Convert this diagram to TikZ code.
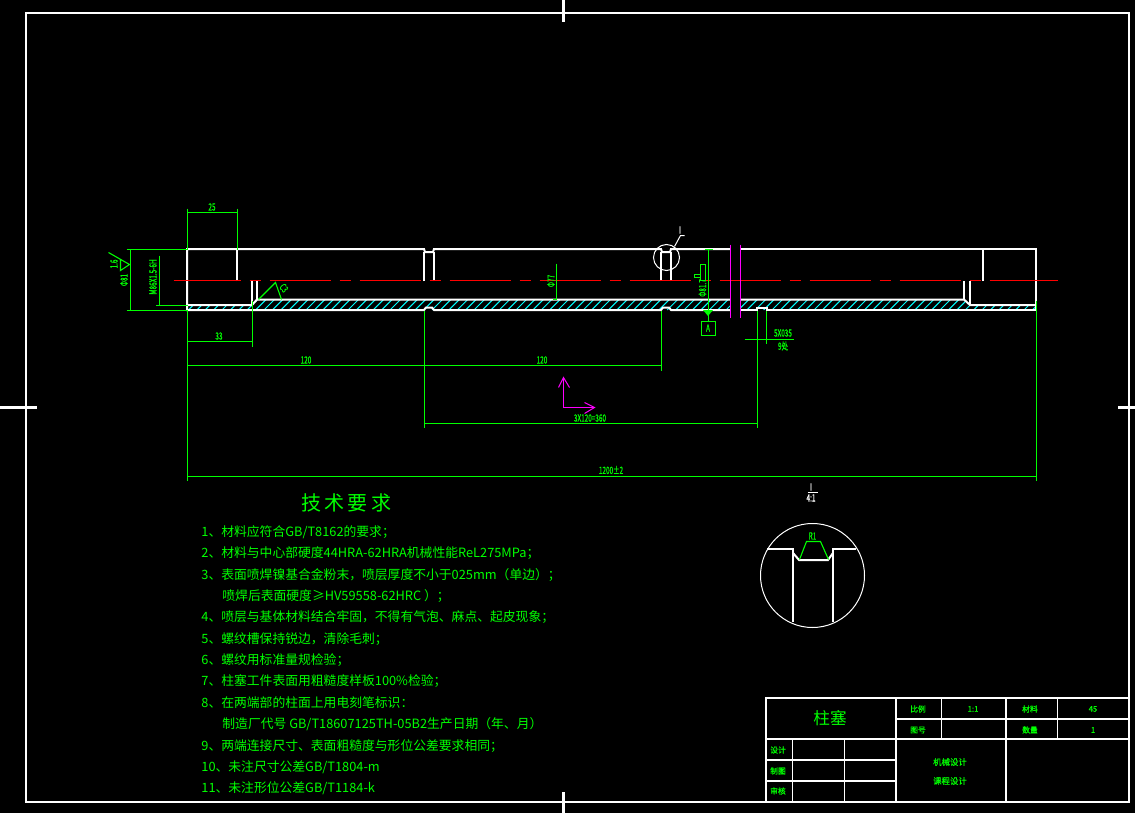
\documentclass[tikz,border=0pt]{standalone}
\usepackage{fontspec}
\newfontfamily\cjk{Noto Sans CJK SC}
\newfontfamily\cjkbold[FakeBold=0.6]{Noto Sans CJK SC}
\definecolor{CadGreen}{RGB}{0,255,0}
\definecolor{CadCyan}{RGB}{0,255,255}
\definecolor{CadMagenta}{RGB}{255,0,255}
\tikzset{
    onepixel/.style={xshift=0.25pt,yshift=-0.25pt},
    part/.style={white,line width=1pt},
    thinpart/.style={white,line width=0.5pt,onepixel},
    dimline/.style={CadGreen,line width=0.55pt,onepixel},
    axisline/.style={red,line width=0.6pt,onepixel},
    breakline/.style={CadMagenta,line width=0.5pt,onepixel},
    dimtext/.style={text=CadGreen,inner sep=0pt,font=\cjkbold\fontsize{5}{5}\selectfont,transform shape,xscale=0.64},
    reqtext/.style={text=CadGreen,inner sep=0pt,anchor=west,font=\cjk\fontsize{6.4}{8}\selectfont},
    celltext/.style={text=CadGreen,inner sep=0pt,font=\cjkbold\fontsize{3.9}{5}\selectfont},
}
\newcommand\ReqLine[4]{%
    \node[reqtext] (#1) at (#2,#3) {#4};
}

\begin{document}
\begin{tikzpicture}[x=0.5pt,y=-0.5pt]
    \useasboundingbox (0,0) rectangle (1135,813);
    \fill[black] (0,0) rectangle (1135,813);
    % sheet
    \draw[part] (26,13) rectangle (1129,802);
    \draw[white,line width=1.5pt] (563,0) -- (563,22);
    \draw[white,line width=1.5pt] (563,792) -- (563,813);
    \draw[white,line width=1.5pt] (0,407) -- (37,407);
    \draw[white,line width=1.5pt] (1118,407) -- (1135,407);
    % hatch
    \begin{scope}
        \clip (187,310) -- (187,305) -- (252,305) -- (257,299) -- (730,299) -- (730,310) -- cycle;
        \foreach \s in {180,188.4,...,735}
            \draw[CadCyan,line width=0.5pt] (\s,310) -- ++(11,-11);
    \end{scope}
    \begin{scope}
        \clip (740,310) -- (740,299) -- (964,299) -- (970,305) -- (1036,305) -- (1036,310) -- cycle;
        \foreach \s in {730,738.4,...,1040}
            \draw[CadCyan,line width=0.5pt] (\s,310) -- ++(11,-11);
    \end{scope}
    % part
    \draw[part] (730,249) -- (671,249) -- (670,252) -- (662,252) -- (661,249) -- (434,249)
        -- (433,252) -- (425,252) -- (424,249) -- (187,249) -- (187,310) -- (424,310)
        -- (426,307.5) -- (432,307.5) -- (434,310) -- (661,310) -- (663,307.5) -- (669,307.5)
        -- (671,310) -- (730,310);
    \draw[part] (740,249) -- (1036,249) -- (1036,310) -- (767,310) -- (767,307.5) -- (757,307.5)
        -- (757,310) -- (740,310);
    \draw[part] (187,305) -- (252,305) -- (257,299.5) -- (730,299.5);
    \draw[part] (740,299.5) -- (964,299.5) -- (970,305) -- (1036,305);
    \foreach \x/\y in {252/305,257/299,964/299,970/305}
        \draw[part] (\x,281) -- (\x,\y);
    \foreach \x/\y in {237/249,424/252,434/252,661/252,671/252,983/249}
        \draw[part] (\x,281) -- (\x,\y);
    % center line
    \foreach \s in {179,269,...,899} {
        \draw[axisline] (\s,280) -- (\s+61,280);
        \draw[axisline] (\s+70,280) -- (\s+81,280);
    }
    \draw[axisline] (173,280) -- (179,280);
    \draw[axisline] (989,280) -- (1057,280);
    % break
    \draw[breakline] (730,244) -- (730,317);
    \draw[breakline] (740,244) -- (740,317);
    % dimensions
    \draw[dimline] (187,208) -- (187,249);
    \draw[dimline] (237,208) -- (237,249);
    \draw[dimline] (187,212) -- (237,212);
    \node[dimtext] (DimEnd) at (212,207) {25};
    \draw[dimline] (126,249) -- (187,249);
    \draw[dimline] (126,310) -- (187,310);
    \draw[dimline] (130,249) -- (130,310);
    \node[rotate=90,dimtext] (DimOuter) at (124,280) {Φ81};
    \draw[dimline] (159,255) -- (159,305) -- (155,305);
    \draw[dimline] (159,305) -- (187,305);
    \node[rotate=90,dimtext] (DimThread) at (153,277) {M86X1.5-6H};
    \draw[dimline] (108,252) -- (129,264) -- (120,270) -- (120,259);
    \node[rotate=90,dimtext] (Rough) at (114,264) {1.6};
    \draw[dimline] (187,310) -- (187,480);
    \draw[dimline] (1036,300) -- (1036,480);
    \draw[dimline] (252,300) -- (252,346);
    \draw[dimline] (187,341) -- (252,341);
    \node[dimtext] (DimStep) at (219,336) {33};
    \draw[dimline] (661,310) -- (661,370);
    \draw[dimline] (187,365) -- (661,365);
    \node[dimtext] (DimPitchA) at (306,360) {120};
    \node[dimtext] (DimPitchB) at (542,360) {120};
    \draw[dimline] (424,310) -- (424,427);
    \draw[dimline] (757,310) -- (757,427);
    \draw[dimline] (424,423) -- (757,423);
    \node[dimtext] (DimPitch) at (590,418) {3X120=360};
    \draw[dimline] (187,476) -- (1036,476);
    \node[dimtext] (DimTotal) at (611,470) {1200±2};
    % chamfer
    \draw[dimline] (258,299) -- (275,282) -- (281,299);
    \node[rotate=-50,dimtext] (Chamfer) at (284,288) {C3};
    % bore
    \draw[dimline] (556,263) -- (556,299) -- (552,299);
    \node[rotate=90,dimtext] (DimBore) at (551,281) {Φ77};
    % datum
    \draw[dimline] (704,249) -- (712,249);
    \draw[dimline] (708,249) -- (708,321);
    \fill[CadGreen] (703,310) -- (713,310) -- (708,316) -- cycle;
    \draw[dimline] (701,321) rectangle (715,335);
    \node[dimtext] (Datum) at (708,328) {A};
    \node[rotate=90,dimtext] (DimShaft) at (702.5,288) {Φ81.7};
    \draw[dimline] (700,264) rectangle (705,280);
    \draw[dimline] (694,274) rectangle (700,277);
    % groove note
    \draw[dimline] (744,339) -- (793,339);
    \draw[dimline] (766,310) -- (766,343);
    \node[dimtext] (GrooveSize) at (783,333) {5X035};
    \node[dimtext] (GrooveCount) at (783,346) {9处};
    % axes
    \begin{scope}[color=CadMagenta,line width=0.5pt,onepixel]
        \draw (563,377) -- (563,407) -- (594,407);
        \draw (558,387) -- (563,377) -- (569,387);
        \draw (584,402) -- (594,407) -- (584,413);
    \end{scope}
    % detail mark
    \draw[thinpart] (666,257) circle (13);
    \draw[thinpart] (674,246) -- (680,235) -- (684,235);
    \node[dimtext,text=white] (DetailMark) at (680,230) {I};
    % detail view
    \node[dimtext,text=white] (DetailName) at (811,487) {I};
    \draw[thinpart] (807,492) -- (817,492);
    \node[dimtext,text=white] (DetailScale) at (811,498) {4:1};
    \draw[thinpart] (812,575) circle (52);
    \draw[part] (767,549) -- (793,549) -- (793,622);
    \draw[part] (856,549) -- (833,549) -- (833,622);
    \draw[part] (793,553) -- (799,560) -- (828,560) -- (833,553);
    \draw[dimline] (799,559) -- (806,541) -- (820,541) -- (828,559);
    \node[dimtext] (DetailRadius) at (812.5,536) {R1};
    % requirements
    \node[text=CadGreen,inner sep=0pt,font=\cjk\fontsize{10}{12}\selectfont] (ReqTitle) at (346,503) {技\,术\,要\,求};
    \ReqLine{ReqA}{201}{532}{1、材料应符合GB/T8162的要求；}
    \ReqLine{ReqB}{201}{553}{2、材料与中心部硬度44HRA-62HRA机械性能ReL275MPa；}
    \ReqLine{ReqC}{201}{575}{3、表面喷焊镍基合金粉末，喷层厚度不小于025mm（单边）；}
    \ReqLine{ReqCc}{222}{596}{喷焊后表面硬度≥HV59558-62HRC ）；}
    \ReqLine{ReqD}{201}{617}{4、喷层与基体材料结合牢固，不得有气泡、麻点、起皮现象；}
    \ReqLine{ReqE}{201}{639}{5、螺纹槽保持锐边，清除毛刺；}
    \ReqLine{ReqF}{201}{660}{6、螺纹用标准量规检验；}
    \ReqLine{ReqG}{201}{681}{7、柱塞工件表面用粗糙度样板100\%检验；}
    \ReqLine{ReqH}{201}{703}{8、在两端部的柱面上用电刻笔标识：}
    \ReqLine{ReqHh}{222}{724}{制造厂代号 GB/T18607125TH-05B2生产日期（年、月）}
    \ReqLine{ReqI}{201}{746}{9、两端连接尺寸、表面粗糙度与形位公差要求相同；}
    \ReqLine{ReqJ}{201}{767}{10、未注尺寸公差GB/T1804-m}
    \ReqLine{ReqK}{201}{788}{11、未注形位公差GB/T1184-k}
    % title block
    \draw[part] (766,802) -- (766,698) -- (1129,698);
    \draw[part] (896,698) -- (896,802);
    \draw[part] (1006,698) -- (1006,802);
    \draw[part] (766,739) -- (1129,739);
    \draw[part] (896,719) -- (1129,719);
    \draw[part] (766,760) -- (896,760);
    \draw[part] (766,781) -- (896,781);
    \draw[thinpart] (941,698) -- (941,739);
    \draw[thinpart] (1057,698) -- (1057,739);
    \draw[thinpart] (792,739) -- (792,802);
    \draw[thinpart] (844,739) -- (844,802);
    \node[text=CadGreen,inner sep=0pt,font=\cjk\fontsize{8.3}{10}\selectfont] (PartName) at (830,718) {柱塞};
    \node[celltext] (ScaleKey) at (918,709) {比例};
    \node[celltext] (ScaleVal) at (973,709) {1:1};
    \node[celltext] (MatKey) at (1030,709) {材料};
    \node[celltext] (MatVal) at (1093,709) {45};
    \node[celltext] (DrawKey) at (918,730) {图号};
    \node[celltext] (CountKey) at (1030,730) {数量};
    \node[celltext] (CountVal) at (1093,730) {1};
    \node[celltext] (DesignKey) at (778,750) {设计};
    \node[celltext] (DraftKey) at (778,771) {制图};
    \node[celltext] (CheckKey) at (778,791) {审核};
    \node[celltext,font=\cjkbold\fontsize{4.2}{5}\selectfont] (CourseA) at (950,762) {机械设计};
    \node[celltext,font=\cjkbold\fontsize{4.2}{5}\selectfont] (CourseB) at (950,781) {课程设计};
\end{tikzpicture}
\end{document}
